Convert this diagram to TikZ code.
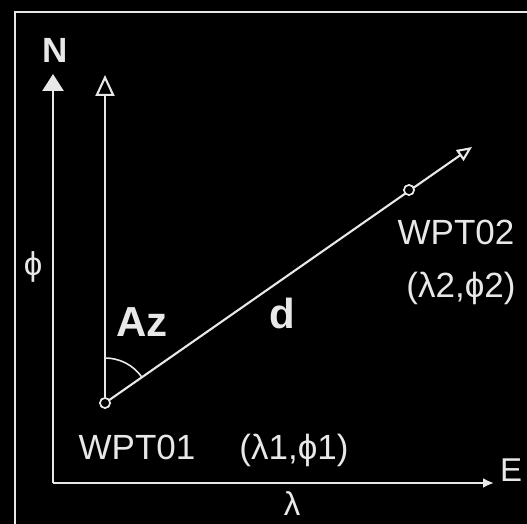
\documentclass[tikz,border=0pt]{standalone}
\usepackage{fontspec}
\setmainfont{Liberation Sans}
\usetikzlibrary{arrows.meta,positioning}
\definecolor{chalk}{RGB}{232,232,232}
\definecolor{board}{RGB}{0,0,0}

\begin{document}
\begin{tikzpicture}[x=1pt,y=1pt]
        \tikzstyle{axisline}=[draw=chalk,line width=2.7pt]
        \tikzstyle{courseline}=[draw=chalk,line width=2.1pt]
        \tikzstyle{wptmark}=[circle,draw=chalk,fill=board,line width=1.6pt,minimum size=10pt,inner sep=0pt]
        \tikzstyle{labeltext}=[text=chalk,inner sep=0pt,anchor=base,font=\fontsize{35}{40}\selectfont]
        \tikzstyle{bigtext}=[text=chalk,inner sep=0pt,anchor=base,font=\fontsize{42}{48}\selectfont\bfseries]
        \useasboundingbox (0,0) rectangle (527,524);
        \fill[board] (0,0) rectangle (527,524);
        \begin{scope}
          \clip (0,0) rectangle (527,524);
          \draw[chalk,line width=2.8pt] (15,-20) -- (15,512) -- (560,512);
        \end{scope}
        % axes
        \coordinate (origin) at (53,41);
        \coordinate (ntip) at (53,450);
        \coordinate (etip) at (494,41);
        \draw[axisline,-{Triangle[length=17pt,width=21pt]}] (origin) -- (ntip);
        \draw[axisline,-{Latex[length=11pt,width=10pt]}] (origin) -- (etip);
        % waypoints
        \node[wptmark] (wpt01) at (105,121) {};
        \node[wptmark] (wpt02) at (409,334) {};
        \coordinate (north) at (105,449);
        \coordinate (dirtip) at (472,377);
        \draw[courseline,-{Triangle[open,length=21pt,width=19pt]}] (wpt01.center) -- (north);
        \draw[courseline,-{Triangle[open,length=15pt,width=13pt]}] (wpt01.center) -- (dirtip);
        \draw[courseline,line width=1.6pt] ([shift={(90:45)}]wpt01.center) arc[start angle=90,end angle=35,radius=45];
        \node[wptmark] at (wpt01) {};
        \node[wptmark] at (wpt02) {};
        % labels
        \node[labeltext,font=\fontsize{35}{40}\selectfont\bfseries] (nlabel) at (55,461) {N};
        \node[labeltext,font=\fontsize{33}{38}\selectfont] (elabel) at (511,42) {E};
        \node[labeltext,font=\fontsize{33}{38}\selectfont] (philabel) at (33,248) {ϕ};
        \node[labeltext,font=\fontsize{33}{38}\selectfont] (lamlabel) at (292,8) {λ};
        \node[bigtext] (azlabel) at (142,187) {Az};
        \node[bigtext] (dlabel) at (282,195) {d};
        \node[labeltext] (wpt01name) at (137,64) {WPT01};
        \node[labeltext] (wpt01pos) at (294,64) {(λ1,ϕ1)};
        \node[labeltext] (wpt02name) at (456,279) {WPT02};
        \node[labeltext] (wpt02pos) at (461,226) {(λ2,ϕ2)};
      \end{tikzpicture}
\end{document}
